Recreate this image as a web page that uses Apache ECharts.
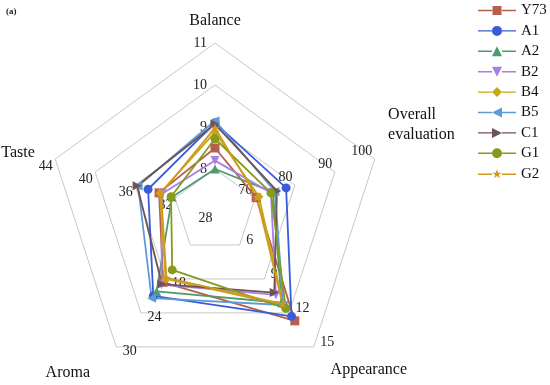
<!DOCTYPE html>
<html>
<head>
<meta charset="utf-8">
<script src="https://cdn.jsdelivr.net/npm/echarts@6/dist/echarts.min.js"></script>
<style>html,body{margin:0;padding:0;background:#fff}#c{width:550px;height:385px}</style>
</head>
<body>
<div id="c"></div>
<script>
// ---- data ----
const sampleNames = ['Y73','A1','A2','B2','B4','B5','C1','G1','G2'];
const balance    = [8.5, 9.1, 8.0, 8.2, 8.88, 9.15, 9.07, 8.72, 8.98];
const overall    = [70.3, 77.8, 74.5, 74.0, 71.0, 75.0, 75.5, 74.0, 70.5];
const appearance = [12.7, 12.3, 11.1, 10.4, 11.3, 11.3, 10.2, 11.6, 11.2];
const aroma      = [18.6, 21.0, 20.2, 19.0, 18.0, 21.4, 18.9, 16.4, 17.8];
const taste      = [33.6, 34.7, 32.3, 33.3, 33.5, 35.7, 35.8, 32.4, 33.4];
const colors = ['#b5604c','#3a5bd9','#4f9a72','#a680e2','#c9a712','#5d9bd6','#6f5456','#869a1c','#d09a1e'];

const STAR = 'path://M0,-1 L0.2245,-0.309 L0.951,-0.309 L0.363,0.118 L0.588,0.809 L0,0.382 L-0.588,0.809 L-0.363,0.118 L-0.951,-0.309 L-0.2245,-0.309 Z';
const symbols = [
  {symbol:'rect', rot:0},
  {symbol:'circle', rot:0},
  {symbol:'triangle', rot:0},
  {symbol:'triangle', rot:180},
  {symbol:'diamond', rot:0},
  {symbol:'triangle', rot:90},
  {symbol:'triangle', rot:-90},
  {symbol:'circle', rot:0},
  {symbol:STAR, rot:0}
];
// legend icons: line + marker, bbox 38x10
const L = 'M0,4.3 L14,4.3 L14,5.7 L0,5.7 Z M24,4.3 L38,4.3 L38,5.7 L24,5.7 Z ';
const legendIcons = [
  'path://' + L + 'M14.5,0.5 L23.5,0.5 L23.5,9.5 L14.5,9.5 Z M0,0 L0,0 M0,10 L0,10',
  'path://' + L + 'M24,5 A5,5 0 1,1 14,5 A5,5 0 1,1 24,5 Z',
  'path://' + L + 'M19,0 L24,10 L14,10 Z',
  'path://' + L + 'M14,0 L24,0 L19,10 Z',
  'path://' + L + 'M19,0 L24,5 L19,10 L14,5 Z',
  'path://' + L + 'M14,5 L24,0 L24,10 Z',
  'path://' + L + 'M14,0 L24,5 L14,10 Z',
  'path://' + L + 'M24,5 A5,5 0 1,1 14,5 A5,5 0 1,1 24,5 Z',
  'path://' + L + 'M19,0 L20.2,3.45 L23.8,3.45 L20.8,5.6 L21.9,9 L19,6.9 L16.1,9 L17.2,5.6 L14.2,3.45 L17.8,3.45 Z'
];

const serif = 'Liberation Serif';
const chart = echarts.init(document.getElementById('c'));
const series = sampleNames.map((n, i) => ({
  type: 'radar',
  name: n,
  symbol: symbols[i].symbol,
  symbolRotate: symbols[i].rot,
  symbolSize: 9,
  itemStyle: { color: colors[i] },
  lineStyle: { color: colors[i], width: 1.8 },
  data: [{ name: n, value: [balance[i], taste[i], aroma[i], appearance[i], overall[i]] }]
}));

chart.setOption({
  animation: false,
  backgroundColor: '#fff',
  graphic: [{ type: 'text', left: 6, top: 7, style: { text: '(a)', font: 'bold 9px "Liberation Serif"', fill: '#222' } }],
  legend: {
    orient: 'vertical', left: 478, top: 3, padding: 0,
    itemWidth: 38, itemHeight: 10, itemGap: 5.4,
    textStyle: { fontFamily: serif, fontSize: 15, color: '#111', lineHeight: 15 },
    data: sampleNames.map((n, i) => ({ name: n, icon: legendIcons[i] }))
  },
  radar: {
    center: [215, 211], radius: 168, startAngle: 90, splitNumber: 4, shape: 'polygon',
    axisName: { color: '#111', fontFamily: serif, fontSize: 16 },
    axisNameGap: 14,
    splitLine: { lineStyle: { color: '#c8c8c8', width: 1 } },
    splitArea: { show: false },
    axisLine: { show: false },
    axisTick: { show: false },
    axisLabel: { show: true, color: '#222', fontFamily: serif, fontSize: 14, showMinLabel: false },
    indicator: [
      { name: 'Balance', min: 7, max: 11 },
      { name: 'Taste', min: 28, max: 44, axisLabel: { showMinLabel: true } },
      { name: '\nAroma', min: 6, max: 30, axisLabel: { formatter: v => (v === 12 ? '' : String(v)) },
        nameTextStyle: { padding: [0, 18, 0, 0], lineHeight: 30 } },
      { name: 'Appearance', min: 3, max: 15, nameTextStyle: { lineHeight: 42 } },
      { name: 'Overall\nevaluation\n\n\n', min: 60, max: 100, nameTextStyle: { lineHeight: 20 } }
    ]
  },
  series: series
});
</script>
</body>
</html>
